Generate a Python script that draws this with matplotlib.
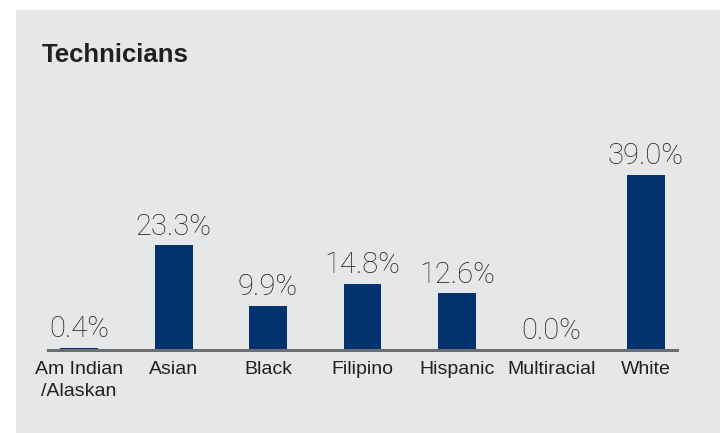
import matplotlib
matplotlib.use("Agg")
import matplotlib.pyplot as plt

# data
categories = ["Am Indian\n/Alaskan", "Asian", "Black", "Filipino", "Hispanic", "Multiracial", "White"]
values = [0.4, 23.3, 9.9, 14.8, 12.6, 0.0, 39.0]
value_labels = ["0.4%", "23.3%", "9.9%", "14.8%", "12.6%", "0.0%", "39.0%"]
title = "Technicians"

W, H = 720, 433
bg = "#e6e7e8"
bar_color = "#04326f"
text_color = "#231f20"

fig = plt.figure(figsize=(W / 100, H / 100), dpi=100)
fig.patch.set_facecolor("white")

# gray panel
panel = plt.Rectangle((16 / W, 0), 1 - 16 / W, 1 - 10 / H,
                      transform=fig.transFigure, facecolor=bg,
                      edgecolor="none", zorder=-5)
fig.add_artist(panel)

ax = fig.add_axes([48 / W, 1 - 350 / H, (677 - 48) / W, 175 / H])
ax.set_facecolor("none")
ax.set_zorder(2)

x = list(range(len(categories)))
ax.bar(x, values, width=0.40, color=bar_color, zorder=2)
ax.set_xlim(-0.33, len(categories) - 1 + 0.33)
ax.set_ylim(0, 39.0)

for xi, v, lab in zip(x, values, value_labels):
    ax.annotate(lab, (xi, v), textcoords="offset points", xytext=(0, 3.5),
                ha="center", va="bottom", fontsize=21, color=text_color,
                family="Roboto", fontweight="light", annotation_clip=False)

for s in ["top", "right", "left"]:
    ax.spines[s].set_visible(False)
ax.spines["bottom"].set_color("#6d6e70")
ax.spines["bottom"].set_linewidth(2.2)
ax.spines["bottom"].set_zorder(3)
ax.set_yticks([])
ax.set_xticks(x)
ax.set_xticklabels(categories, fontsize=14, color=text_color,
                   family="Liberation Sans", linespacing=1.35)
ax.tick_params(axis="x", length=0, pad=8)

fig.text(42 / W, 1 - 62 / H, title, fontsize=18.5, fontweight="bold",
         color=text_color, family="Liberation Sans", va="baseline", ha="left")

fig.savefig("out.png", dpi=100, facecolor="white")
